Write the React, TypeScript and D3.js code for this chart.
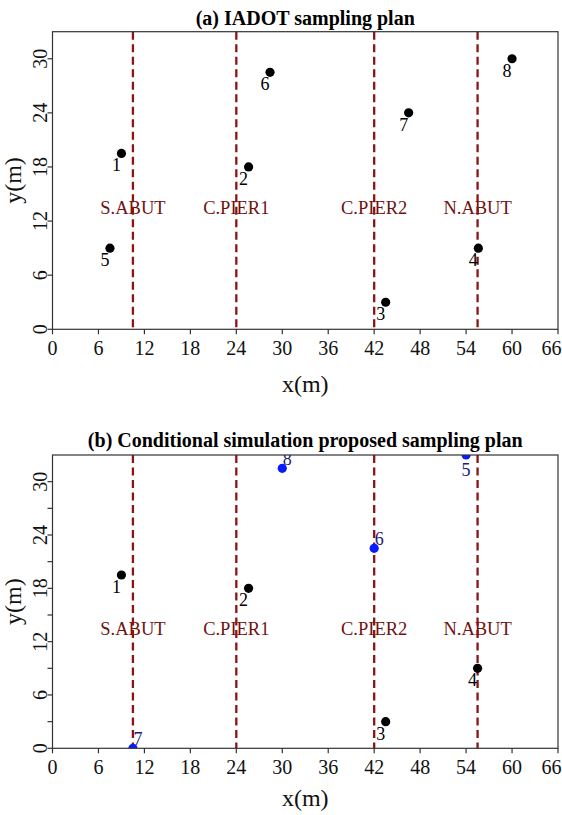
import React from "react";
import * as d3 from "d3";

// ---------- data ----------
const stationIds = [1, 2, 3, 4, 5, 6, 7, 8];
const iadotX = [9, 25.6, 43.5, 55.6, 7.5, 28.4, 46.5, 60];
const iadotY = [19.5, 18, 3, 9, 9, 28.5, 24, 30];
const condX = [9, 25.6, 43.5, 55.5, 54, 42, 10.5, 30];
const condY = [19.5, 18, 3, 9, 33, 22.5, 0, 31.5];
const condKind = ["existing", "existing", "existing", "existing", "proposed", "proposed", "proposed", "proposed"];
const condLabelPos = ["bl", "bl", "bl", "bl", "b", "ar", "ar", "ar"];
const iadotLabelPos = ["bl", "bl", "bl", "bl", "bl", "bl", "bl", "bl"];
const structureNames = ["S.ABUT", "C.PIER1", "C.PIER2", "N.ABUT"];
const structureX = [10.5, 24, 42, 55.5];
const structureLabelY = 13.4;
const xTickValues = [0, 6, 12, 18, 24, 30, 36, 42, 48, 54, 60, 66];
const yTickValues = [0, 6, 12, 18, 24, 30];
const yMinorTickValues = [3, 9, 15, 21, 27];
const titles = ["(a) IADOT sampling plan", "(b) Conditional simulation proposed sampling plan"];
const xDomain = [0, 66];
const yDomain = [0, 33];

// ---------- style ----------
const FONT = "'Liberation Serif', 'Times New Roman', serif";
const LINE_RED = "#8b1414";
const TEXT_RED = "#6e1212";
const BLUE = "#0a1aff";
const BLUE_TEXT = "#1a1a7a";

type Panel = {
  top: number;
  bottom: number;
  titleY: number;
  xLabelY: number;
  xs: number[];
  ys: number[];
  kinds: string[];
  pos: string[];
  minor: boolean;
  title: string;
  id: string;
};

const LEFT = 52.5;
const RIGHT = 558;
const SVG_W = 562;

function labelOffset(p: string) {
  if (p === "bl") return { dx: -5, dy: 18 };
  if (p === "ar") return { dx: 5, dy: -3 };
  if (p === "b") return { dx: 0, dy: 21 };
  return { dx: 0, dy: 0 };
}

function PanelView({ p }: { p: Panel }) {
  const x = d3.scaleLinear().domain(xDomain).range([LEFT, RIGHT]);
  const y = d3.scaleLinear().domain(yDomain).range([p.bottom, p.top]);
  const midY = (p.top + p.bottom) / 2;
  return (
    <g>
      <defs>
        <clipPath id={`clip-${p.id}`}>
          <rect x={LEFT} y={p.top} width={RIGHT - LEFT} height={p.bottom - p.top} />
        </clipPath>
      </defs>
      <text
        x={(LEFT + RIGHT) / 2}
        y={p.titleY}
        textAnchor="middle"
        fontFamily={FONT}
        fontWeight="bold"
        fontSize={20}
        fill="#000"
      >
        {p.title}
      </text>
      {/* structure labels */}
      {structureNames.map((n, i) => (
        <text
          key={n}
          x={x(structureX[i])}
          y={y(structureLabelY)}
          textAnchor="middle"
          dominantBaseline="central"
          fontFamily={FONT}
          fontSize={18.5}
          fill={TEXT_RED}
        >
          {n}
        </text>
      ))}
      {/* dashed lines */}
      {structureX.map((sx, i) => (
        <line
          key={i}
          x1={x(sx)}
          x2={x(sx)}
          y1={p.top}
          y2={p.bottom}
          stroke={LINE_RED}
          strokeWidth={2.3}
          strokeDasharray="8,4.5"
        />
      ))}
      {/* points */}
      <g clipPath={`url(#clip-${p.id})`}>
        {stationIds.map((id, i) => {
          const o = labelOffset(p.pos[i]);
          const proposed = p.kinds[i] === "proposed";
          return (
            <g key={id}>
              <circle cx={x(p.xs[i])} cy={y(p.ys[i])} r={4.6} fill={proposed ? BLUE : "#000"} />
              <text
                x={x(p.xs[i]) + o.dx}
                y={y(p.ys[i]) + o.dy}
                textAnchor="middle"
                fontFamily={FONT}
                fontSize={18}
                fill={proposed ? BLUE_TEXT : "#000"}
              >
                {id}
              </text>
            </g>
          );
        })}
      </g>
      {/* box */}
      <rect
        x={LEFT}
        y={p.top}
        width={RIGHT - LEFT}
        height={p.bottom - p.top}
        fill="none"
        stroke="#333"
        strokeWidth={1.2}
      />
      {/* x axis ticks */}
      {xTickValues.map((t, i) => {
        const last = i === xTickValues.length - 1;
        return (
          <g key={t}>
            <line x1={x(t)} x2={x(t)} y1={p.bottom} y2={p.bottom + 5} stroke="#333" strokeWidth={1.2} />
            <text
              x={last ? SVG_W - 0.5 : x(t)}
              y={p.bottom + 26}
              textAnchor={last ? "end" : "middle"}
              fontFamily={FONT}
              fontSize={20}
              fill="#111"
            >
              {t}
            </text>
          </g>
        );
      })}
      {/* y axis ticks */}
      {yTickValues.map((t) => (
        <g key={t}>
          <line x1={LEFT - 5} x2={LEFT} y1={y(t)} y2={y(t)} stroke="#333" strokeWidth={1.2} />
          <text
            transform={`translate(${LEFT - 5.5},${y(t)}) rotate(-90)`}
            textAnchor="middle"
            fontFamily={FONT}
            fontSize={20}
            fill="#111"
          >
            {t}
          </text>
        </g>
      ))}
      {p.minor &&
        yMinorTickValues.map((t) => (
          <line key={t} x1={LEFT - 5} x2={LEFT} y1={y(t)} y2={y(t)} stroke="#333" strokeWidth={1.2} />
        ))}
      {/* axis titles */}
      <text x={(LEFT + RIGHT) / 2} y={p.xLabelY} textAnchor="middle" fontFamily={FONT} fontSize={24} fill="#111">
        x(m)
      </text>
      <text
        transform={`translate(21,${midY}) rotate(-90)`}
        textAnchor="middle"
        fontFamily={FONT}
        fontSize={24}
        fill="#111"
      >
        y(m)
      </text>
    </g>
  );
}

export default function App() {
  const panels: Panel[] = [
    {
      id: "a",
      top: 31.7,
      bottom: 329.3,
      titleY: 25,
      xLabelY: 392,
      xs: iadotX,
      ys: iadotY,
      kinds: stationIds.map(() => "existing"),
      pos: iadotLabelPos,
      minor: false,
      title: titles[0],
    },
    {
      id: "b",
      top: 455,
      bottom: 748.3,
      titleY: 447,
      xLabelY: 806,
      xs: condX,
      ys: condY,
      kinds: condKind,
      pos: condLabelPos,
      minor: true,
      title: titles[1],
    },
  ];
  return (
    <svg
      width={562}
      height={815}
      viewBox="0 0 562 815"
      style={{ position: "absolute", left: 0, top: 0, background: "#fff" }}
    >
      <rect x={0} y={0} width={562} height={815} fill="#fff" />
      {panels.map((p) => (
        <PanelView key={p.id} p={p} />
      ))}
    </svg>
  );
}
